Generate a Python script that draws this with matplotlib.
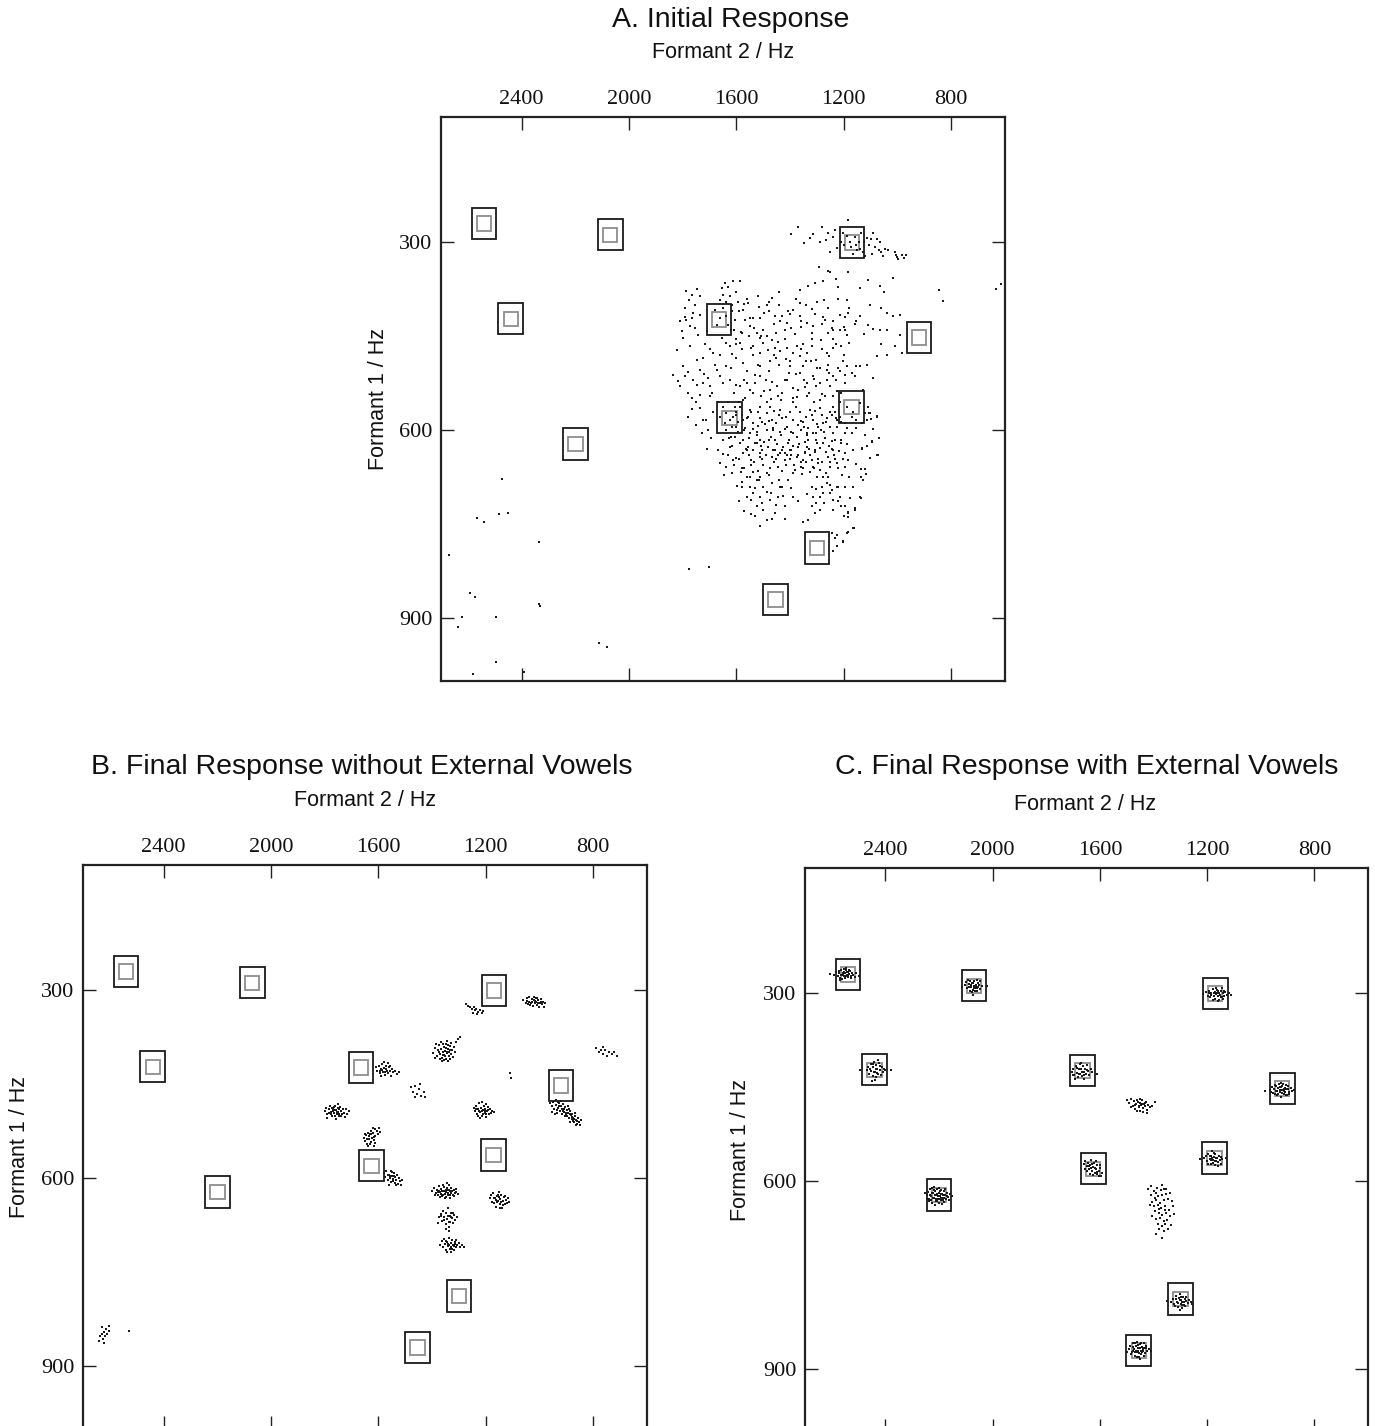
import matplotlib
matplotlib.use("Agg")
import matplotlib.pyplot as plt
from matplotlib.patches import Rectangle
import numpy as np

# ---------------- data ----------------
target_f2 = [2540, 2070, 2440, 2200, 1665, 1625, 1170, 920, 1172, 1300, 1455]
target_f1 = [270, 288, 422, 622, 423, 580, 300, 452, 563, 788, 870]

x_ticks = [2400, 2000, 1600, 1200, 800]
y_ticks = [300, 600, 900]

titles = ["A. Initial Response",
          "B. Final Response without External Vowels",
          "C. Final Response with External Vowels"]
xlabel = "Formant 2 / Hz"
ylabel = "Formant 1 / Hz"

# Panel A: initial responses (F2, F1)
a_points = [
    (2473,678),(2566,740),(2540,746),(2484,733),(2451,732),(2335,778),(2670,799),(1777,821),(1702,818),
    (2592,860),(2573,866),(2335,877),(2333,881),(2622,898),(2637,914),(2495,898),(2112,939),(2082,946),
    (2495,970),(2581,989),(2391,986),(615,367),(846,376),(831,394),(634,374),
    (1398,287),(1372,276),(1348,301),(1314,287),(1281,276),(1268,297),(1253,316),(1240,291),(1227,309),
    (1205,285),(1183,264),(1178,300),(1153,304),(1143,299),(1135,285),(1115,293),(1108,304),(1091,285),
    (1083,307),(1071,313),(1066,300),(1060,316),(1047,310),(1010,315),(1001,323),(985,321),(969,321),
    (1004,320),(1190,290),(1175,308),(1160,292),(1150,312),(1165,318),(1140,310),(1198,305),(1125,300),
    (1130,315),(1120,322),(1100,295),(1095,318),(1055,322),(1075,295),(1212,300),(1232,280),(1260,285),
    (1290,300),(1327,293),(1036,312),(975,325),(1000,327),
    (1258,345),(1250,348),(1183,348),(1016,357),(1140,373),(1066,369),(1221,372),(1277,362),(1307,365),
    (1335,369),(1364,376),(1443,380),(1292,340),(1230,358),(1110,360),(1050,380),
    (1786,378),(1767,384),(1746,375),(1736,386),(1776,392),(1792,419),(1767,421),(1736,416),(1788,424),
    (1804,442),(1773,434),(1655,373),(1643,365),(1631,371),(1612,362),(1587,362),(1649,384),(1624,386),
    (1662,392),(1680,408),(1649,405),(1637,418),(1618,410),(1674,432),(1631,432),(1618,400),(1606,424),
    (1575,408),(1556,397),(1550,421),(1569,424),(1581,445),(1755,400),(1790,405),(1760,412),(1640,395),
    (1660,420),(1610,440),(1595,395),(1600,380),
    (1515,403),(1488,400),(1479,409),(1457,418),(1513,421),(1438,426),(1407,409),(1389,408),(1364,418),
    (1358,426),(1320,407),(1314,434),(1277,419),(1271,424),(1258,445),(1240,440),(1215,440),(1196,419),
    (1184,413),(1140,418),(1109,432),(1066,440),(1060,405),(1041,413),(991,416),(991,448),(1010,466),
    (985,476),(1190,448),(1196,440),(1413,429),(1451,445),(1488,450),(1507,450),(1525,445),(1550,434),
    (1624,466),(1600,463),(1587,461),(1538,466),(1513,477),(1469,456),(1457,469),(1438,474),(1413,469),
    (1389,477),(1376,466),(1364,482),(1339,477),(1320,466),(1302,487),(1264,477),(1240,469),(1209,466),
    (1451,485),(1475,490),(1513,498),(1575,493),(1637,498),(1686,477),(1724,485),(1748,487),(1736,503),
    (1401,498),(1351,498),(1289,501),(1264,503),(1190,498),(1171,509),(1153,498),
    (1835,511),(1798,498),(1792,514),(1761,519),(1724,525),(1699,530),(1662,514),(1624,519),(1587,530),
    (1562,525),(1538,541),(1513,514),(1476,535),(1444,546),(1420,519),(1389,533),(1364,509),(1339,525),
    (1314,514),(1302,530),(1264,519),(1240,514),(1215,506),(1196,525),(1209,541),(1240,546),(1289,551),
    (1339,546),(1389,548),(1488,554),(1575,551),(1699,546),(1736,543),(1767,549),(1810,530),
    (1649,562),(1637,573),(1624,583),(1612,578),(1600,570),(1643,589),(1618,594),(1593,586),(1631,554),
    (1587,562),(1662,578),(1606,562),
    (1780,578),(1736,565),(1724,583),(1705,599),(1730,605),(1575,583),(1556,578),(1538,589),(1513,581),
    (1488,573),(1469,583),(1451,589),(1432,581),(1413,594),(1389,583),(1370,591),(1351,586),(1333,597),
    (1314,583),(1296,594),(1277,589),(1264,581),(1246,575),(1227,583),(1215,578),(1209,586),(1252,594),
    (1302,605),(1339,605),(1389,605),(1438,602),(1488,599),(1525,602),(1550,605),(1569,597),(1476,562),
    (1438,567),(1364,570),(1327,567),(1289,565),(1513,562),(1550,567),(1240,562),(1103,573),(1078,578),
    (1115,583),(1134,589),(1190,597),(1171,605),
    (1668,631),(1649,637),(1624,626),(1600,644),(1575,615),(1562,631),(1544,647),(1525,621),(1513,636),
    (1500,655),(1482,626),(1469,642),(1457,615),(1444,658),(1432,631),(1420,647),(1407,621),(1395,639),
    (1382,663),(1370,626),(1358,658),(1345,636),(1333,615),(1320,647),(1308,631),(1289,663),(1277,621),
    (1258,642),(1240,631),(1227,652),(1209,621),(1196,658),(1165,631),(1134,628),(1097,618),(1103,644),
    (1078,639),(1637,658),(1618,668),(1581,660),(1538,666),(1488,668),(1351,660),(1538,631),(1463,631),
    (1401,631),(1351,647),(1302,615),(1252,658),(1233,615),(1196,636),(1513,615),(1575,636),(1606,610),
    (1339,626),(1438,636),(1376,642),(1314,658),
    (1581,682),(1562,674),(1550,690),(1525,679),(1513,706),(1544,711),(1525,721),(1500,727),(1531,737),
    (1488,743),(1475,711),(1457,732),(1513,674),(1469,684),(1438,690),(1407,679),(1389,706),(1420,721),
    (1444,706),(1314,706),(1302,716),(1289,706),(1277,700),(1264,684),(1246,695),(1240,711),(1227,690),
    (1215,706),(1196,721),(1308,732),(1320,721),(1333,743),(1289,727),(1240,727),(1184,732),(1159,727),
    (1140,706),(1351,746),(1196,690),(1277,674),
    (1246,764),(1233,772),(1227,785),(1240,793),(1202,777),(1190,764),(1165,756),
    (1190,562),(1171,578),(1153,583),(1122,573),(1109,562),(1140,557),(1165,570),
    (1103,400),(1016,418),(1041,440),(1078,482),(1115,496),(1140,498),(1091,517),(1159,514),(1128,535),
    (1108,573),(1077,577),(1099,582),(1096,617),(1115,625),(1134,630),(1166,632),(1074,639),(1103,644),
    (1121,661),(1137,662),(1155,654),(1118,669),(1180,675),(1137,674),(1130,680),(1165,691),(1136,708),
    (1211,721),(1158,724),(1186,731),(1183,738),(1162,756),(1186,763),(1227,767),(1202,778),
    (1640,600),(1620,610),(1600,595),(1585,620),(1570,600),(1555,612),(1540,598),(1525,608),(1510,625),
    (1495,590),(1480,615),(1465,600),(1450,622),(1435,608),(1420,598),(1405,615),(1390,625),(1375,610),
    (1360,600),(1345,618),(1330,630),(1315,605),(1300,620),(1285,600),(1270,612),(1255,625),(1240,605),
    (1225,595),(1210,615),(1195,605),
    (1630,640),(1610,655),(1590,645),(1570,660),(1555,640),(1535,650),(1520,665),(1505,645),(1490,640),
    (1475,660),(1460,650),(1445,640),(1430,665),(1415,655),(1400,645),(1385,655),(1370,640),(1355,670),
    (1340,650),(1325,640),(1310,660),(1295,645),(1280,650),(1265,635),(1250,650),(1235,640),(1220,660),
    (1205,645),
    (1600,575),(1560,580),(1520,570),(1480,585),(1440,575),(1400,570),(1360,585),(1320,575),(1280,575),
    (1250,570),(1230,580),(1650,615),(1565,630),(1505,632),(1455,632),(1395,632),(1345,634),(1290,628),
    (1245,630),(1615,625),(1530,620),(1470,610),(1410,640),(1350,595),(1300,590),
    (1580,690),(1540,700),(1500,690),(1470,700),(1430,690),(1320,690),(1280,690),(1250,700),(1220,690),
    (1550,675),(1515,680),(1440,680),(1300,675),(1260,675),
    (1700,470),(1680,495),(1660,480),(1640,460),(1620,500),(1600,485),(1580,470),(1560,505),(1540,480),
    (1520,495),(1500,460),(1480,505),(1460,480),(1440,495),(1420,455),(1400,490),(1380,510),(1360,470),
    (1340,490),(1320,455),(1300,500),(1280,470),(1260,495),(1240,455),(1220,500),(1200,480),(1180,460),
    (1780,540),(1750,555),(1720,510),(1690,540),(1670,555),(1650,525),(1610,540),(1590,555),(1570,520),
    (1550,535),(1530,525),(1510,545),(1490,520),(1470,550),(1450,530),(1430,540),(1410,520),(1390,555),
    (1370,535),(1350,520),(1330,540),(1310,555),(1290,525),(1270,545),(1250,530),(1230,520),(1215,555),
    (1560,390),(1540,420),(1520,385),(1500,440),(1480,395),(1460,430),(1440,400),(1420,440),(1400,415),
    (1380,390),(1360,435),(1340,400),(1320,445),(1300,395),(1280,430),(1260,405),(1240,425),(1220,390),
    (1200,435),(1180,405),(1160,430),(1620,440),(1590,410),(1600,455),(1555,450),
    (1627,612),(1593,603),(1558,627),(1521,593),(1497,618),(1462,596),(1427,627),(1398,603),(1367,622),
    (1336,608),(1306,634),(1273,603),(1243,617),(1218,633),(1187,622),(1612,648),(1584,667),(1547,655),
    (1512,642),(1478,671),(1452,645),(1419,636),(1388,668),(1361,651),(1327,666),(1297,652),(1268,668),
    (1232,646),(1207,672),(1183,648),
    (1603,527),(1567,548),(1532,512),(1498,537),(1466,523),(1434,552),(1403,508),(1374,547),(1344,531),
    (1312,518),(1283,542),(1254,509),(1226,537),(1197,512),(1672,503),(1706,517),(1748,528),(1782,507),
    (1817,522),
    (1652,452),(1618,478),(1584,443),(1546,468),(1512,452),(1483,472),(1447,459),(1416,486),(1382,447),
    (1353,463),(1321,489),(1286,456),(1257,481),(1228,463),(1204,489),
    (1573,398),(1536,436),(1497,412),(1468,389),(1431,417),(1396,437),(1365,397),(1337,428),(1306,414),
    (1274,392),(1246,436),(1213,416),(1187,392),(1153,425),(1126,447),(1092,438),(1063,462),(1038,479),
    (1561,707),(1532,692),(1503,716),(1486,698),(1452,719),(1427,704),(1396,692),(1372,713),(1338,701),
    (1304,694),(1273,716),(1252,688),(1222,713),(1201,736),(1176,708),
    (1578,576),(1546,571),(1503,587),(1459,569),(1417,579),(1377,563),(1341,578),(1307,569),(1268,587),
    (1233,571),(1197,588),(1154,596),(1123,607),(1091,598),(1070,612),
    (1693,612),(1712,584),(1752,592),(1689,571),(1766,566),(1708,630),(1663,652),(1645,672),(1598,689),
    (1592,712),(1571,728),(1466,742),(1512,752),(1547,733),(1421,741),
    (1798,452),(1821,472),(1772,466),(1743,448),(1718,462),(1708,441),(1756,437),(1810,425),
]

# Panel B: final responses without external vowels
b_points = [
    (1060,315),(1052,320),(1045,312),(1040,318),(1035,323),(1030,314),(1027,319),(1022,316),(1018,321),
    (1015,313),(1012,318),(1008,324),(1004,316),(1000,320),(996,314),(992,322),(988,318),(984,326),
    (980,321),(1048,317),(1038,311),(1025,325),(1020,310),(1010,312),(1002,326),(994,319),(1033,320),
    (1016,317),(1006,320),(1043,322),
    (1275,322),(1265,325),(1258,327),(1250,330),(1245,326),(1240,332),(1235,329),(1228,334),(1222,331),
    (1215,336),(1210,333),(1248,336),(1232,338),
    (1395,400),(1388,392),(1382,405),(1378,396),(1374,388),(1370,401),(1367,394),(1364,408),(1360,398),
    (1357,391),(1355,403),(1352,397),(1349,386),(1347,409),(1344,400),(1341,393),(1338,404),(1335,396),
    (1332,389),(1329,402),(1326,395),(1322,407),(1318,390),(1314,399),(1310,383),(1305,378),(1298,374),
    (1362,413),(1356,411),(1346,381),(1372,410),(1385,385),(1340,412),(1333,410),(1368,382),(1358,386),
    (1350,392),(1345,398),(1337,399),(1361,403),(1353,405),(1342,388),(1376,399),(1328,384),(1390,408),
    (1610,423),(1604,428),(1598,420),(1594,432),(1590,425),(1586,418),(1582,430),(1578,424),(1575,435),
    (1572,420),(1568,428),(1564,432),(1560,423),(1556,429),(1552,436),(1548,426),(1544,431),(1538,428),
    (1530,433),(1522,431),(1580,414),(1566,416),(1592,437),(1585,427),(1570,425),(1558,421),(1596,429),
    (1576,430),
    (1480,455),(1470,462),(1462,452),(1455,466),(1448,458),(1440,468),(1432,462),(1425,470),(1465,470),
    (1445,450),(1110,432),(1105,440),
    (790,392),(778,398),(770,395),(762,401),(755,396),(748,404),(740,399),(732,402),(722,398),(710,404),
    (765,390),
    (1800,492),(1795,487),(1790,497),(1785,490),(1780,485),(1776,494),(1772,500),(1768,489),(1764,495),
    (1761,484),(1758,491),(1755,498),(1752,488),(1749,494),(1746,501),(1743,486),(1740,492),(1736,497),
    (1732,489),(1728,495),(1722,490),(1716,497),(1710,493),(1770,493),(1760,500),(1750,482),(1778,498),
    (1765,486),(1745,490),(1756,494),(1738,500),(1784,496),(1762,491),(1748,497),(1774,487),(1726,502),
    (1790,503),(1757,505),
    (1245,488),(1240,493),(1236,484),(1232,497),(1228,489),(1225,480),(1222,494),(1218,487),(1214,500),
    (1211,491),(1208,485),(1205,496),(1202,489),(1199,502),(1196,493),(1193,486),(1190,498),(1186,490),
    (1182,495),(1176,492),(1168,494),(1230,501),(1215,478),(1200,482),(1220,504),(1210,497),(1226,492),
    (1204,492),(1192,491),(1216,493),(1235,490),(1198,497),
    (962,480),(955,485),(950,478),(945,490),(940,483),(936,495),(932,487),(928,479),(925,492),(921,485),
    (918,497),(915,489),(912,482),(908,494),(905,486),(902,499),(899,491),(896,484),(893,496),(890,503),
    (887,493),(884,499),(881,506),(878,497),(875,503),(872,510),(869,500),(866,507),(862,513),(858,504),
    (855,510),(851,515),(847,507),(930,478),(920,476),(910,490),(900,495),(892,489),(880,502),(870,505),
    (860,508),(942,497),(934,491),(926,485),(914,493),(906,500),(897,501),(888,498),(876,509),(864,515),
    (953,494),(938,475),(923,492),(885,510),(868,495),
    (1655,536),(1650,540),(1646,531),(1642,545),(1638,527),(1635,537),(1632,530),(1629,542),(1626,524),
    (1623,535),(1620,528),(1617,539),(1614,521),(1611,532),(1607,525),(1603,530),(1598,520),(1593,526),
    (1640,548),(1630,546),(1621,519),(1612,544),(1644,538),(1636,533),(1627,530),(1616,534),(1650,529),
    (1618,548),
    (1580,592),(1575,598),(1570,588),(1566,603),(1562,594),(1558,600),(1555,589),(1552,606),(1549,596),
    (1546,601),(1543,592),(1540,607),(1537,598),(1534,603),(1531,595),(1528,609),(1524,600),(1520,605),
    (1515,611),(1512,602),(1560,610),(1548,590),(1556,597),(1541,597),(1534,611),(1565,594),(1552,596),
    (1545,604),
    (1400,620),(1393,616),(1387,624),(1382,618),(1378,627),(1374,613),(1370,622),(1366,617),(1362,628),
    (1359,621),(1356,614),(1353,625),(1350,619),(1347,630),(1344,616),(1341,623),(1338,611),(1335,627),
    (1332,620),(1328,615),(1324,626),(1320,619),(1315,623),(1310,617),(1305,625),(1372,630),(1360,610),
    (1345,608),(1332,631),(1380,622),(1368,625),(1355,620),(1342,626),(1326,621),(1318,628),(1364,621),
    (1348,622),(1337,618),(1376,620),(1352,632),(1312,622),(1390,627),(1358,626),(1340,619),(1330,624),
    (1185,632),(1180,627),(1176,637),(1172,624),(1168,640),(1165,631),(1161,645),(1158,628),(1155,636),
    (1152,622),(1149,641),(1146,633),(1143,627),(1140,647),(1137,636),(1134,630),(1130,641),(1126,634),
    (1122,639),(1117,632),(1112,637),(1170,632),(1160,638),(1150,630),(1144,638),(1136,643),(1156,626),
    (1164,635),(1128,628),(1148,648),
    (1375,662),(1368,657),(1362,668),(1358,652),(1354,661),(1350,673),(1347,656),(1344,665),(1341,648),
    (1338,677),(1335,660),(1332,669),(1329,655),(1326,664),(1322,672),(1318,659),(1314,666),(1308,662),
    (1348,681),(1336,684),(1356,666),(1342,660),(1330,662),(1366,660),(1324,656),(1339,670),(1380,672),
    (1370,706),(1365,700),(1360,710),(1356,697),(1352,705),(1348,714),(1344,701),(1340,708),(1337,695),
    (1334,712),(1331,703),(1328,709),(1325,698),(1322,706),(1319,715),(1316,702),(1313,710),(1310,699),
    (1306,707),(1301,703),(1296,710),(1290,706),(1283,709),(1345,718),(1330,718),(1336,706),(1320,708),
    (1342,704),(1326,712),(1350,700),(1314,704),
    (2640,860),(2635,852),(2630,848),(2625,856),(2620,845),(2617,852),(2613,840),(2610,849),(2605,843),
    (2602,835),(2622,863),(2628,838),(2528,843),
]

# Panel C: final responses with external vowels
c_points = [
    (2590,270),(2584,266),(2578,272),(2572,268),(2568,275),(2564,263),(2560,270),(2556,266),(2553,273),
    (2550,268),(2547,262),(2544,271),(2541,266),(2538,274),(2535,269),(2532,264),(2528,272),(2524,267),
    (2520,270),(2515,274),(2510,268),(2575,264),(2562,277),(2552,276),(2545,266),(2537,263),(2558,268),
    (2548,272),(2540,270),(2566,270),(2530,276),(2556,261),(2605,269),(2500,272),(2570,279),(2546,259),
    (2105,287),(2100,282),(2095,292),(2090,285),(2086,296),(2083,280),(2080,290),(2077,284),(2074,294),
    (2071,288),(2068,281),(2065,291),(2062,286),(2059,297),(2056,283),(2053,290),(2050,286),(2046,293),
    (2040,288),(2088,290),(2078,298),(2066,296),(2060,279),(2072,284),(2082,287),(2058,291),(2070,291),
    (2092,279),(2048,281),(2075,302),(2020,289),(2115,290),(2064,288),
    (2470,422),(2465,417),(2460,428),(2455,412),(2452,424),(2448,432),(2445,418),(2442,409),(2440,426),
    (2437,415),(2434,434),(2431,420),(2428,428),(2425,411),(2422,423),(2418,430),(2414,418),(2410,425),
    (2405,421),(2400,423),(2450,440),(2438,438),(2426,407),(2444,425),(2432,427),(2446,413),(2420,416),
    (2435,420),(2458,420),(2415,430),(2380,423),(2495,422),
    (2245,622),(2240,617),(2236,628),(2232,613),(2229,624),(2226,634),(2223,619),(2220,609),(2218,627),
    (2215,616),(2212,632),(2210,622),(2207,612),(2205,628),(2202,618),(2199,635),(2197,624),(2194,614),
    (2191,630),(2189,620),(2186,626),(2183,616),(2180,633),(2177,622),(2174,628),(2170,618),(2166,625),
    (2162,630),(2158,621),(2238,632),(2228,610),(2214,638),(2200,610),(2188,636),(2176,612),(2234,622),
    (2222,626),(2208,620),(2196,628),(2184,622),(2216,622),(2204,624),(2192,620),(2226,618),(2212,628),
    (2198,616),(2186,630),(2172,624),(2218,614),(2244,628),(2150,624),(2254,619),(2206,632),(2194,626),
    (2180,626),(2230,629),
    (1705,425),(1700,420),(1695,430),(1690,416),(1686,427),(1682,434),(1679,420),(1676,413),(1673,428),
    (1670,421),(1667,432),(1664,416),(1661,425),(1658,436),(1655,420),(1652,428),(1648,414),(1644,424),
    (1640,430),(1635,420),(1684,419),(1672,411),(1660,431),(1650,422),(1678,428),(1666,425),(1694,437),
    (1630,425),(1610,429),(1700,431),
    (1660,572),(1654,568),(1650,576),(1645,570),(1640,580),(1636,574),(1632,566),(1628,583),(1625,577),
    (1622,571),(1619,586),(1616,580),(1612,574),(1609,589),(1605,583),(1601,578),(1597,591),(1593,586),
    (1648,584),(1638,588),(1630,573),(1620,578),(1610,585),(1642,575),(1624,590),(1600,574),(1656,580),
    (1616,568),(1634,579),(1604,592),
    (1215,301),(1205,298),(1198,304),(1192,296),(1188,306),(1184,300),(1180,293),(1176,304),(1172,298),
    (1169,309),(1166,301),(1163,294),(1160,305),(1157,299),(1154,310),(1151,302),(1148,296),(1145,306),
    (1141,300),(1137,304),(1132,298),(1126,303),(1120,300),(1112,302),(1178,310),(1168,292),(1158,313),
    (1146,292),(1174,300),(1162,300),(1150,306),(1186,302),(1138,296),(1194,300),(1160,297),(1142,309),
    (965,455),(958,450),(953,459),(948,446),(944,456),(940,463),(936,451),(932,444),(929,458),(926,449),
    (923,465),(920,454),(917,445),(914,460),(911,451),(908,457),(905,447),(901,462),(897,453),(893,458),
    (888,451),(882,456),(950,452),(942,448),(934,460),(927,455),(919,448),(912,456),(904,452),(896,461),
    (938,456),(930,450),(922,459),(915,452),(907,462),(946,461),(924,443),(900,448),(960,458),(875,455),
    (985,456),
    (1210,563),(1204,560),(1199,567),(1195,556),(1191,565),(1187,572),(1184,559),(1181,551),(1178,566),
    (1175,561),(1172,574),(1169,556),(1166,568),(1163,562),(1160,575),(1157,559),(1153,566),(1148,561),
    (1143,565),(1197,572),(1186,566),(1176,554),(1168,563),(1158,569),(1180,571),(1170,568),(1190,560),
    (1150,572),(1225,565),(1130,563),(1183,563),
    (1335,792),(1328,788),(1323,796),(1318,783),(1314,792),(1310,800),(1306,786),(1302,779),(1299,795),
    (1296,789),(1293,802),(1290,784),(1287,793),(1284,788),(1281,799),(1277,785),(1273,794),(1268,790),
    (1262,793),(1320,799),(1308,794),(1298,784),(1292,797),(1285,797),(1303,790),(1315,787),(1280,791),
    (1295,793),(1350,791),(1255,795),(1300,806),
    (1492,868),(1486,863),(1481,872),(1477,858),(1473,868),(1470,878),(1466,862),(1463,856),(1460,873),
    (1457,866),(1454,881),(1451,860),(1448,870),(1445,876),(1442,864),(1439,871),(1436,858),(1432,874),
    (1428,866),(1424,870),(1418,868),(1484,876),(1475,864),(1465,870),(1455,874),(1446,858),(1437,878),
    (1429,862),(1478,870),(1468,873),(1458,861),(1449,866),(1440,868),(1462,880),(1450,884),(1470,858),
    (1444,872),(1500,872),(1410,871),(1458,870),(1435,866),
    (1500,470),(1490,475),(1483,468),(1477,480),(1472,472),(1468,484),(1464,476),(1460,470),(1456,482),
    (1452,475),(1449,488),(1446,478),(1443,470),(1440,483),(1437,476),(1433,480),(1429,473),(1425,486),
    (1420,478),(1414,482),(1405,479),(1395,474),(1462,488),(1450,468),(1438,490),(1470,478),(1455,479),
    (1444,476),(1432,475),(1459,474),(1484,482),(1424,491),
    (1421,612),(1408,608),(1398,616),(1386,610),(1372,614),(1360,612),(1410,622),(1396,626),(1383,624),
    (1368,622),(1352,620),(1338,618),(1404,633),(1389,630),(1376,634),(1361,630),(1346,628),(1330,632),
    (1400,640),(1385,638),(1371,643),(1356,640),(1342,645),(1326,640),(1395,648),(1381,651),(1367,654),
    (1352,650),(1337,656),(1390,660),(1375,658),(1362,664),(1348,662),(1384,668),(1370,671),(1356,668),
    (1378,676),(1362,680),(1345,676),(1392,684),(1370,690),(1415,638),(1322,652),(1353,612),(1405,655),
    (1334,670),(1368,606),(1390,618),(1358,646),(1378,644),
]

# ---------------- styling constants ----------------
W, H = 1375, 1426
OUTER_W, OUTER_H = 92, 50     # Hz
INNER_W, INNER_H = 54, 23     # Hz
DOT = "#1a1a1a"

fig = plt.figure(figsize=(W / 100, H / 100), dpi=100)
fig.patch.set_facecolor("white")


def px_rect(left, top, right, bottom):
    return [left / W, 1 - bottom / H, (right - left) / W, (bottom - top) / H]


def draw_panel(rect, pts):
    ax = fig.add_axes(rect)
    ax.set_xlim(2700, 600)
    ax.set_ylim(1000, 100)
    for f2, f1 in zip(target_f2, target_f1):
        ax.add_patch(Rectangle((f2 - OUTER_W / 2, f1 - OUTER_H / 2), OUTER_W, OUTER_H,
                               fill=False, ec="#1a1a1a", lw=1.3, zorder=2))
        ax.add_patch(Rectangle((f2 - INNER_W / 2, f1 - INNER_H / 2), INNER_W, INNER_H,
                               fill=False, ec="#8e8e8e", lw=1.3, zorder=2))
    p = np.array(pts, dtype=float)
    ax.scatter(p[:, 0], p[:, 1], s=2.6, marker="s", c=DOT, linewidths=0, zorder=3)
    ax.set_xticks(x_ticks)
    ax.set_yticks(y_ticks)
    ax.set_xticklabels([str(t) for t in x_ticks])
    ax.set_yticklabels([str(t) for t in y_ticks])
    ax.tick_params(direction="in", length=9.5, width=1.0, color="#222222",
                   top=True, bottom=True, left=True, right=True,
                   labeltop=True, labelbottom=False, labelleft=True, labelright=False,
                   labelsize=16, pad=6, labelfontfamily="Liberation Serif", labelcolor="#111111")
    for s in ax.spines.values():
        s.set_linewidth(1.6)
        s.set_color("#222222")
    return ax


axA = draw_panel(px_rect(441, 117, 1005, 681), a_points)
axB = draw_panel(px_rect(83, 865, 647, 1429), b_points)
axC = draw_panel(px_rect(805, 868, 1368, 1432), c_points)

sans = "Liberation Sans"
def ftext(x, y, s, size, rot=0):
    fig.text(x / W, 1 - y / H, s, ha="center", va="center", fontsize=size,
             family=sans, rotation=rot, color="#111111")

ftext(731, 20, titles[0], 20.5)
ftext(723, 53, xlabel, 15.5)
ftext(378, 399, ylabel, 15.5, rot=90)

ftext(362, 767, titles[1], 20.5)
ftext(365, 800, xlabel, 15.5)
ftext(20, 1147, ylabel, 15.5, rot=90)

ftext(1087, 767, titles[2], 20.5)
ftext(1085, 804, xlabel, 15.5)
ftext(741, 1150, ylabel, 15.5, rot=90)

fig.savefig("out.png", dpi=100, facecolor="white")
